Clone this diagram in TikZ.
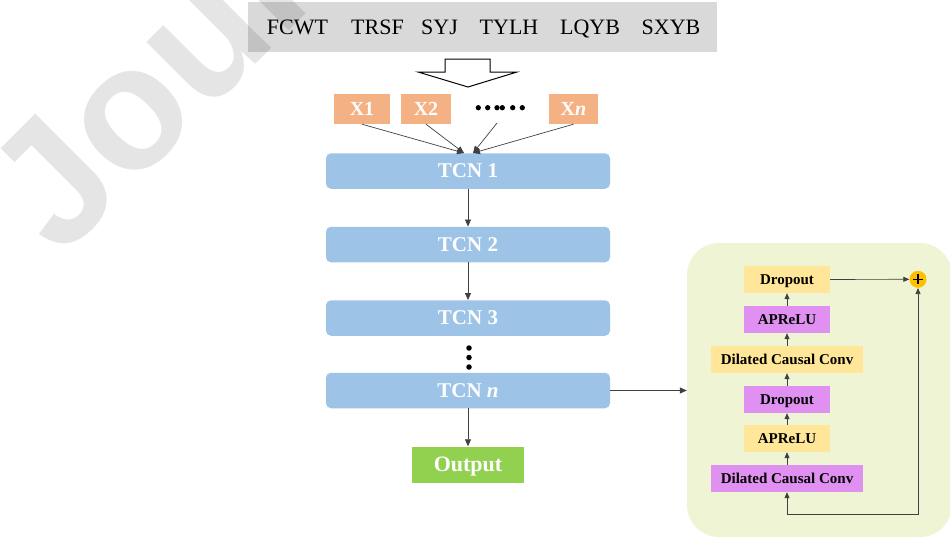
\documentclass[tikz,border=0pt]{standalone}
\usepackage{fontspec}
\setmainfont{Liberation Serif}
\newfontfamily\wmfont{Liberation Sans}
\usetikzlibrary{arrows.meta,calc}
\definecolor{topgray}{HTML}{D9D9D9}
\definecolor{xorange}{HTML}{F4B183}
\definecolor{tcnblue}{HTML}{9DC3E6}
\definecolor{outgreen}{HTML}{92D050}
\definecolor{panelgreen}{HTML}{EFF5D4}
\definecolor{blkyellow}{HTML}{FFE699}
\definecolor{blkpurple}{HTML}{E090F0}
\definecolor{plusgold}{HTML}{FFC000}
\definecolor{linegray}{HTML}{404040}
\tikzset{
  tcnbox/.style={fill=tcnblue, rounded corners=5pt, minimum width=284pt, minimum height=35.5pt, inner sep=0pt, text=white, text height=13.9pt, text depth=0pt, font=\fontsize{21}{21}\selectfont\bfseries},
  xbox/.style={fill=xorange, minimum height=30pt, inner sep=0pt, text=white, text height=13.2pt, text depth=0pt, font=\fontsize{20}{20}\selectfont\bfseries},
  toptxt/.style={inner sep=0pt, text height=14.5pt, text depth=0pt, font=\fontsize{22}{22}\selectfont},
  blk/.style={minimum height=27pt, inner sep=0pt, text height=9.9pt, text depth=0pt, font=\fontsize{15}{15}\selectfont\bfseries},
  narrow/.style={blk, minimum width=86pt},
  wide/.style={blk, minimum width=152pt},
  arr/.style={draw=linegray, line width=0.7pt, -{Triangle[length=7pt,width=6pt]}},
  sarr/.style={draw=linegray, line width=0.7pt, -{Triangle[length=6pt,width=5pt]}},
  dot/.style={circle, fill=black, inner sep=0pt, minimum size=5.3pt},
}
\begin{document}
\begin{tikzpicture}[x=1pt,y=-1pt]
\useasboundingbox (0,0) rectangle (950,538);
\begin{scope}
\clip (0,0) rectangle (950,538);
% top data box
\node[fill=topgray, minimum width=469pt, minimum height=50pt, inner sep=0pt] (top) at (482.5,27) {};
\node[toptxt] (w1) at (297.5,27.5) {FCWT};
\node[toptxt] (w2) at (377.5,27.5) {TRSF};
\node[toptxt] (w3) at (439.5,27.5) {SYJ};
\node[toptxt] (w4) at (509,27.5) {TYLH};
\node[toptxt] (w5) at (590,27.5) {LQYB};
\node[toptxt] (w6) at (671,27.5) {SXYB};
% hollow arrow
\draw[line width=1pt, fill=white] (445,59) -- (490,59) -- (490,72) -- (517,72) -- (468,87) -- (418,72) -- (445,72) -- cycle;
% inputs
\node[xbox, minimum width=56pt] (x1) at (362,109) {X1};
\node[xbox, minimum width=50pt] (x2) at (426,109) {X2};
\node[xbox, minimum width=49pt] (xn) at (573.5,109) {X\textit{n}};
\foreach \i/\xx in {1/478.3,2/487.7,3/497,4/502.3,5/512.7,6/522.3}{
  \node[dot] (d\i) at (\xx,107.7) {};
}
\coordinate (dotsb) at (497,123);
% TCN stack
\node[tcnbox] (t1) at (468,171) {TCN 1};
\node[tcnbox] (t2) at (468,244.5) {TCN 2};
\node[tcnbox] (t3) at (468,318) {TCN 3};
\node[tcnbox] (tn) at (468,390.5) {TCN \textit{n}};
\node[fill=outgreen, minimum width=112pt, minimum height=36pt, inner sep=0pt, text=white, text height=14.5pt, text depth=0pt, font=\fontsize{22}{22}\selectfont\bfseries] (out) at (468,464.5) {Output};
\coordinate (in1) at ($(t1.north)+(-4,0)$);
\coordinate (in2) at ($(t1.north)+(5,0)$);
\draw[arr] (x1.south) -- (in1);
\draw[arr] (x2.south) -- (in1);
\draw[arr] (dotsb) -- (in2);
\draw[arr] (xn.south) -- (in2);
\draw[arr] (t1) -- (t2);
\draw[arr] (t2) -- (t3);
\draw[arr] (tn) -- (out);
\node[dot, minimum size=5.5pt] (v1) at (469,348) {};
\node[dot, minimum size=5.5pt] (v2) at (469,357.5) {};
\node[dot, minimum size=5.5pt] (v3) at (469,367) {};
% residual block panel
\node[fill=panelgreen, rounded corners=32pt, minimum width=265pt, minimum height=294pt, inner sep=0pt] (panel) at (819.5,390) {};
\draw[arr] (tn.east) -- (panel.west |- tn.east);
\node[narrow, fill=blkyellow] (b6) at (787,279.5) {Dropout};
\node[narrow, fill=blkpurple] (b5) at (787,319.5) {APReLU};
\node[wide, fill=blkyellow] (b4) at (787,359.5) {Dilated Causal Conv};
\node[narrow, fill=blkpurple] (b3) at (787,399.5) {Dropout};
\node[narrow, fill=blkyellow] (b2) at (787,438.5) {APReLU};
\node[wide, fill=blkpurple] (b1) at (787,478.5) {Dilated Causal Conv};
\node[circle, fill=plusgold, minimum size=17pt, inner sep=0pt] (plus) at (918,279.3) {};
\draw[line width=1.1pt] ($(plus.center)+(-5,0)$) -- ($(plus.center)+(5,0)$);
\draw[line width=1.1pt] ($(plus.center)+(0,-5)$) -- ($(plus.center)+(0,5)$);
\draw[sarr] (b1) -- (b2);
\draw[sarr] (b2) -- (b3);
\draw[sarr] (b3) -- (b4);
\draw[sarr] (b4) -- (b5);
\draw[sarr] (b5) -- (b6);
\draw[sarr] (b6) -- (plus);
\coordinate (j) at (787,514);
\draw[sarr] (j) -- (b1);
\draw[sarr] (j) -| (plus);
% watermark
\node[rotate=45, anchor=base west, inner sep=0pt, text=black, opacity=0.1, font=\wmfont\bfseries\fontsize{175}{175}\selectfont] (wm) at (60,260) {Journal Pre-proof};
\end{scope}
\end{tikzpicture}
\end{document}
